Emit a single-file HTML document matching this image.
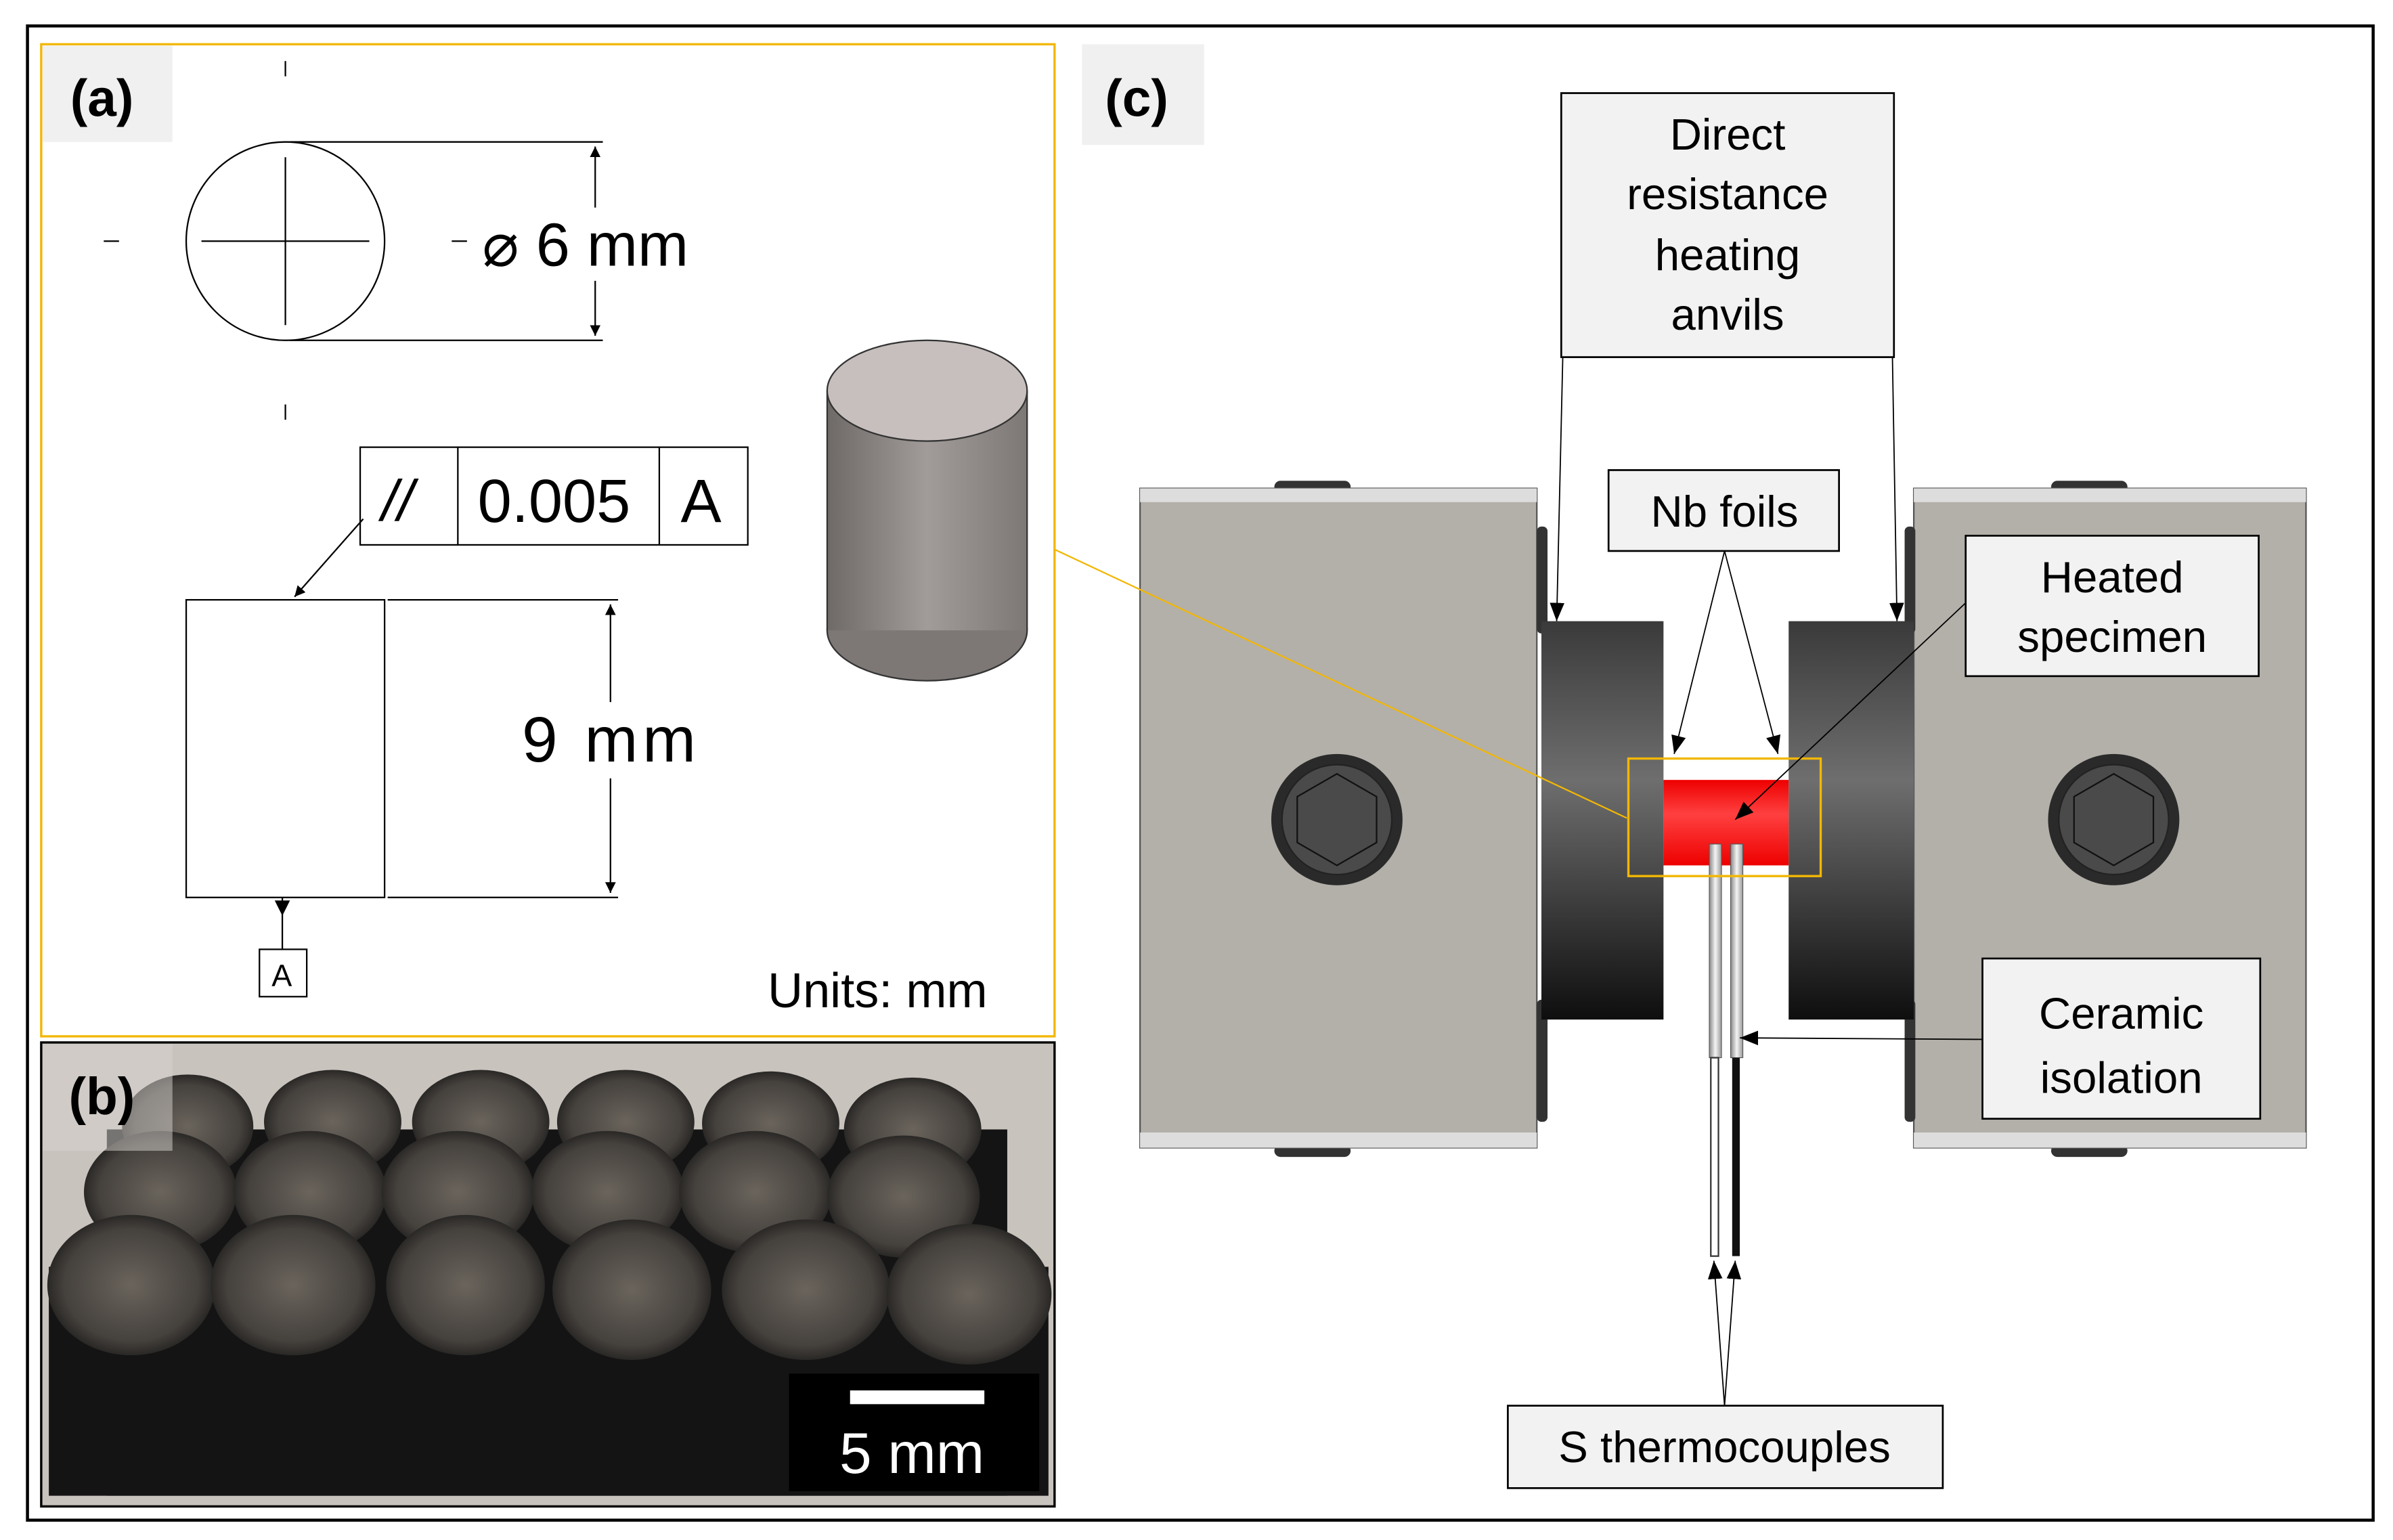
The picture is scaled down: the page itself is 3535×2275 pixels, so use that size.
<!DOCTYPE html>
<html><head><meta charset="utf-8"><style>
html,body{margin:0;padding:0;background:#fff}
svg{display:block}
text{font-family:"Liberation Sans",sans-serif}
</style></head><body>
<svg width="3535" height="2275" viewBox="0 0 1568 1009" preserveAspectRatio="none" xmlns="http://www.w3.org/2000/svg">
<defs>
<marker id="ar" viewBox="0 0 10 10" refX="10" refY="5" markerWidth="7" markerHeight="7" orient="auto-start-reverse" markerUnits="userSpaceOnUse"><path d="M0,0L10,5L0,10z" fill="#000"/></marker>
<marker id="arb" viewBox="0 0 10 10" refX="10" refY="5" markerWidth="12" markerHeight="12" orient="auto-start-reverse" markerUnits="userSpaceOnUse"><path d="M0,1L10,5L0,9z" fill="#000"/></marker>
<linearGradient id="cyl" x1="0" x2="1"><stop offset="0" stop-color="#6e6a68"/><stop offset="0.5" stop-color="#a19b99"/><stop offset="1" stop-color="#7d7876"/></linearGradient>
<linearGradient id="anv" x1="0" y1="0" x2="0" y2="1"><stop offset="0" stop-color="#3a3a3a"/><stop offset="0.4" stop-color="#6e6e6e"/><stop offset="1" stop-color="#0e0e0e"/></linearGradient>
<linearGradient id="red" x1="0" y1="0" x2="0" y2="1"><stop offset="0" stop-color="#e00"/><stop offset="0.4" stop-color="#ff4040"/><stop offset="1" stop-color="#e00"/></linearGradient>
<linearGradient id="rod" x1="0" x2="1"><stop offset="0" stop-color="#888"/><stop offset="0.5" stop-color="#f4f4f4"/><stop offset="1" stop-color="#999"/></linearGradient>
<radialGradient id="top" cx="0.5" cy="0.5" r="0.5"><stop offset="0" stop-color="#6a645c"/><stop offset="0.8" stop-color="#45413d"/><stop offset="1" stop-color="#2a2826"/></radialGradient>
</defs>
<rect x="18" y="17" width="1537" height="979" fill="#fff" stroke="#000" stroke-width="2"/>

<!-- panel a -->
<rect x="27" y="29" width="664" height="650" fill="#fff" stroke="#f2b705" stroke-width="1.5"/>
<rect x="28" y="30" width="85" height="63" fill="#f0f0f0"/>
<text x="46" y="76" font-size="34" font-weight="bold">(a)</text>
<g stroke="#000" stroke-width="1" fill="none">
<circle cx="187" cy="158" r="65"/>
<line x1="132" y1="158" x2="242" y2="158"/><line x1="187" y1="103" x2="187" y2="213"/>
<line x1="187" y1="40" x2="187" y2="50"/><line x1="187" y1="265" x2="187" y2="275"/>
<line x1="68" y1="158" x2="78" y2="158"/><line x1="296" y1="158" x2="306" y2="158"/>
<line x1="190" y1="93" x2="395" y2="93"/><line x1="190" y1="223" x2="395" y2="223"/>
<line x1="390" y1="96" x2="390" y2="220" marker-start="url(#ar)" marker-end="url(#ar)"/>
<rect x="236" y="293" width="254" height="64"/>
<line x1="300" y1="293" x2="300" y2="357"/><line x1="432" y1="293" x2="432" y2="357"/>
<line x1="238" y1="340" x2="193" y2="391" marker-end="url(#ar)"/>
<rect x="122" y="393" width="130" height="195"/>
<line x1="254" y1="393" x2="405" y2="393"/><line x1="254" y1="588" x2="405" y2="588"/>
<line x1="400" y1="396" x2="400" y2="585" marker-start="url(#ar)" marker-end="url(#ar)"/>
<line x1="185" y1="588" x2="185" y2="622"/>
<rect x="170" y="622" width="31" height="31"/>
</g>
<path d="M180,590 L190,590 L185,600z" fill="#000"/>
<rect x="314" y="136" width="160" height="48" fill="#fff"/>
<rect x="338" y="460" width="122" height="50" fill="#fff"/>
<text x="316" y="174" font-size="40">⌀ 6 mm</text>
<text x="250" y="341" font-size="38" font-style="italic">//</text>
<text x="313" y="342" font-size="40">0.005</text>
<text x="446" y="342" font-size="40">A</text>
<text x="342" y="499" font-size="42" textLength="114">9 mm</text>
<text x="178" y="646" font-size="20">A</text>
<text x="503" y="660" font-size="32">Units: mm</text>
<ellipse cx="607.5" cy="413" rx="65.5" ry="33" fill="#7d7876" stroke="#333" stroke-width="1"/>
<rect x="542" y="256" width="131" height="157" fill="url(#cyl)"/>
<line x1="542" y1="256" x2="542" y2="413" stroke="#333"/><line x1="673" y1="256" x2="673" y2="413" stroke="#333"/>
<ellipse cx="607.5" cy="256" rx="65.5" ry="33" fill="#c6bfbd" stroke="#333" stroke-width="1"/>

<!-- panel b -->
<rect x="27" y="683" width="664" height="304" fill="#c9c3bd" stroke="#000" stroke-width="1.5"/>
<g fill="#141414">
<rect x="70" y="740" width="590" height="240"/>
<rect x="32" y="830" width="655" height="150"/>
</g>
<g fill="url(#top)">
<ellipse cx="123" cy="738" rx="43" ry="34"/><ellipse cx="218" cy="735" rx="45" ry="34"/><ellipse cx="315" cy="735" rx="45" ry="34"/>
<ellipse cx="410" cy="735" rx="45" ry="34"/><ellipse cx="505" cy="736" rx="45" ry="34"/><ellipse cx="598" cy="740" rx="45" ry="34"/>
<ellipse cx="105" cy="781" rx="50" ry="40"/><ellipse cx="203" cy="781" rx="50" ry="40"/><ellipse cx="300" cy="781" rx="50" ry="40"/>
<ellipse cx="398" cy="781" rx="50" ry="40"/><ellipse cx="495" cy="781" rx="50" ry="40"/><ellipse cx="592" cy="784" rx="50" ry="40"/>
<ellipse cx="86" cy="842" rx="55" ry="46"/><ellipse cx="192" cy="842" rx="54" ry="46"/><ellipse cx="305" cy="842" rx="52" ry="46"/>
<ellipse cx="414" cy="845" rx="52" ry="46"/><ellipse cx="528" cy="845" rx="55" ry="46"/><ellipse cx="635" cy="848" rx="54" ry="46"/>
</g>
<rect x="28" y="684" width="85" height="70" fill="#d8d4d0" opacity="0.5"/>
<text x="45" y="730" font-size="34" font-weight="bold">(b)</text>
<rect x="517" y="900" width="164" height="77" fill="#000"/>
<rect x="557" y="911" width="88" height="9" fill="#fff"/>
<text x="550" y="965" font-size="38" fill="#fff">5 mm</text>

<!-- panel c -->
<rect x="709" y="29" width="80" height="66" fill="#f0f0f0"/>
<text x="724" y="76" font-size="34" font-weight="bold">(c)</text>
<rect x="835" y="315" width="50" height="8" rx="4" fill="#333"/><rect x="835" y="750" width="50" height="8" rx="4" fill="#333"/>
<rect x="1344" y="315" width="50" height="8" rx="4" fill="#333"/><rect x="1344" y="750" width="50" height="8" rx="4" fill="#333"/>
<rect x="747" y="320" width="260" height="432" fill="#b3afa9" stroke="#555" stroke-width="1"/>
<rect x="747" y="320" width="260" height="9" fill="#ddd"/><rect x="747" y="742" width="260" height="10" fill="#ddd"/>
<rect x="1254" y="320" width="257" height="432" fill="#b3afa9" stroke="#555" stroke-width="1"/>
<rect x="1254" y="320" width="257" height="9" fill="#ddd"/><rect x="1254" y="742" width="257" height="10" fill="#ddd"/>
<rect x="1007" y="345" width="7" height="70" rx="3" fill="#333"/><rect x="1007" y="655" width="7" height="80" rx="3" fill="#333"/>
<rect x="1248" y="345" width="7" height="70" rx="3" fill="#333"/><rect x="1248" y="655" width="7" height="80" rx="3" fill="#333"/>
<rect x="1010" y="407" width="80" height="261" fill="url(#anv)"/>
<rect x="1172" y="407" width="82" height="261" fill="url(#anv)"/>
<rect x="1090" y="511" width="82" height="56" fill="url(#red)"/>
<circle cx="876" cy="537" r="43" fill="#2a2a2a"/><circle cx="876" cy="537" r="36" fill="#4a4a4a" stroke="#222"/>
<path d="M876,507 L902,522 L902,552 L876,567 L850,552 L850,522z" fill="#4a4a4a" stroke="#111"/>
<circle cx="1385" cy="537" r="43" fill="#2a2a2a"/><circle cx="1385" cy="537" r="36" fill="#4a4a4a" stroke="#222"/>
<path d="M1385,507 L1411,522 L1411,552 L1385,567 L1359,552 L1359,522z" fill="#4a4a4a" stroke="#111"/>
<rect x="1120" y="553" width="8" height="140" fill="url(#rod)" stroke="#555" stroke-width="0.5"/>
<rect x="1134" y="553" width="8" height="140" fill="url(#rod)" stroke="#555" stroke-width="0.5"/>
<rect x="1121" y="693" width="5" height="130" fill="#fff" stroke="#333" stroke-width="1"/>
<rect x="1135" y="693" width="5" height="130" fill="#111"/>
<rect x="1067" y="497" width="126" height="77" fill="none" stroke="#f2b705" stroke-width="1.5"/>
<line x1="691" y1="360" x2="1066" y2="536" stroke="#f2b705" stroke-width="1"/>

<g fill="#f2f2f2" stroke="#000" stroke-width="1.2">
<rect x="1023" y="61" width="218" height="173"/>
<rect x="1054" y="308" width="151" height="53"/>
<rect x="1288" y="351" width="192" height="92"/>
<rect x="1299" y="628" width="182" height="105"/>
<rect x="988" y="921" width="285" height="54"/>
</g>
<g font-size="29" text-anchor="middle">
<text x="1132" y="98">Direct</text><text x="1132" y="137">resistance</text><text x="1132" y="177">heating</text><text x="1132" y="216">anvils</text>
<text x="1130" y="345">Nb foils</text>
<text x="1384" y="388">Heated</text><text x="1384" y="427">specimen</text>
<text x="1390" y="674">Ceramic</text><text x="1390" y="716">isolation</text>
<text x="1130" y="958">S thermocouples</text>
</g>
<g stroke="#000" stroke-width="0.8" fill="none">
<line x1="1024" y1="234" x2="1020" y2="407" marker-end="url(#arb)"/>
<line x1="1240" y1="234" x2="1243" y2="407" marker-end="url(#arb)"/>
<line x1="1130" y1="361" x2="1097" y2="494" marker-end="url(#arb)"/>
<line x1="1130" y1="361" x2="1165" y2="494" marker-end="url(#arb)"/>
<line x1="1288" y1="395" x2="1137" y2="537" marker-end="url(#arb)"/>
<line x1="1299" y1="681" x2="1140" y2="680" marker-end="url(#arb)"/>
<line x1="1130" y1="921" x2="1123" y2="826" marker-end="url(#arb)"/>
<line x1="1130" y1="921" x2="1137" y2="826" marker-end="url(#arb)"/>
</g>
</svg>
</body></html>
